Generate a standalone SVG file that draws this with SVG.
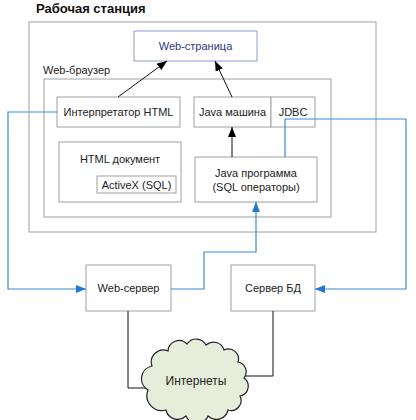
<svg xmlns="http://www.w3.org/2000/svg" width="416" height="420" viewBox="0 0 416 420">
<defs>
<marker id="ab" viewBox="0 0 10 8" refX="10" refY="4" markerWidth="10" markerHeight="8" markerUnits="userSpaceOnUse" orient="auto"><path d="M0,0 L10,4 L0,8 z" fill="#000"/></marker>
<marker id="ablue" viewBox="0 0 10 8" refX="10" refY="4" markerWidth="10" markerHeight="8" markerUnits="userSpaceOnUse" orient="auto"><path d="M0,0 L10,4 L0,8 z" fill="#1f78d1"/></marker>
</defs>
<style>
.box{fill:#fff;stroke:#a0a0a0;stroke-width:1}
.t{font-family:"Liberation Sans",Arial,sans-serif;font-size:11px;fill:#222;text-anchor:middle}
.bl{fill:none;stroke:#3a8ad6;stroke-width:1.2}
.k{fill:none;stroke:#111;stroke-width:1}
</style>
<rect width="416" height="420" fill="#fff"/>
<g id="workstation">
<text x="36" y="13" style="font-family:'Liberation Sans',Arial,sans-serif;font-size:13px;font-weight:bold;fill:#111">Рабочая станция</text>
<rect class="box" x="29" y="22" width="347" height="210"/>
</g>
<g id="webpage">
<rect x="134" y="31" width="123" height="30" fill="#fff" stroke="#8b9ad0"/>
<text class="t" x="195.5" y="50" style="fill:#2b3a80">Web-страница</text>
</g>
<g id="browser">
<text x="43" y="74" style="font-family:'Liberation Sans',Arial,sans-serif;font-size:11px;fill:#222">Web-браузер</text>
<rect class="box" x="44" y="79" width="287" height="138"/>
</g>
<g id="interp">
<rect class="box" x="57" y="97" width="123" height="30"/>
<text class="t" x="118.5" y="116">Интерпретатор HTML</text>
</g>
<g id="jvm">
<rect class="box" x="194" y="97" width="77" height="30"/>
<text class="t" x="232.5" y="116">Java машина</text>
</g>
<g id="jdbc">
<rect class="box" x="271" y="97" width="44" height="30"/>
<text class="t" x="293" y="116">JDBC</text>
</g>
<g id="htmldoc">
<rect class="box" x="59" y="142" width="122" height="60"/>
<text class="t" x="120" y="163">HTML документ</text>
</g>
<g id="activex">
<rect class="box" x="97" y="176" width="79" height="17"/>
<text class="t" x="136.5" y="188.5">ActiveX (SQL)</text>
</g>
<g id="javaprog">
<rect class="box" x="195" y="157" width="122" height="45"/>
<text class="t" x="256" y="177">Java программа</text>
<text class="t" x="256" y="191">(SQL операторы)</text>
</g>
<g id="webserver">
<rect class="box" x="86" y="265" width="85" height="46"/>
<text class="t" x="128.5" y="292">Web-сервер</text>
</g>
<g id="dbserver">
<rect class="box" x="231" y="265" width="84" height="46"/>
<text class="t" x="273" y="292">Сервер БД</text>
</g>
<g id="connectors">
<line class="k" x1="118" y1="97" x2="167" y2="61" marker-end="url(#ab)"/>
<line class="k" x1="232" y1="97" x2="215" y2="61" marker-end="url(#ab)"/>
<line class="k" x1="232" y1="157" x2="232" y2="127" marker-end="url(#ab)"/>
<polyline class="bl" points="57,112 8,112 8,289 86,289" marker-end="url(#ablue)"/>
<polyline class="bl" points="285,157 285,119 406,119 406,289 315,289" marker-end="url(#ablue)"/>
<polyline class="bl" points="171,289 204,289 204,252 256,252 256,202" marker-end="url(#ablue)"/>
<polyline class="k" points="128,311 128,388 148,388"/>
<polyline class="k" points="273,311 273,376 244,376"/>
</g>
<g id="internet">
<path d="M148,390 A13,13 0 0 1 152,366 A12,12 0 0 1 168,351 A11,11 0 0 1 187,344 A11,11 0 0 1 206,345 A11,11 0 0 1 224,350 A10,10 0 0 1 238,362 A10,10 0 0 1 244,378 A10,10 0 0 1 240,396 A10,10 0 0 1 228,410 A12,12 0 0 1 208,416 A12,12 0 0 1 186,416 A12,12 0 0 1 166,410 A15,15 0 0 1 148,390 Z" fill="#e6eedb" stroke="#222" stroke-width="1.2"/>
<text class="t" x="196" y="385" style="font-size:12px">Интернеты</text>
</g>
</svg>
